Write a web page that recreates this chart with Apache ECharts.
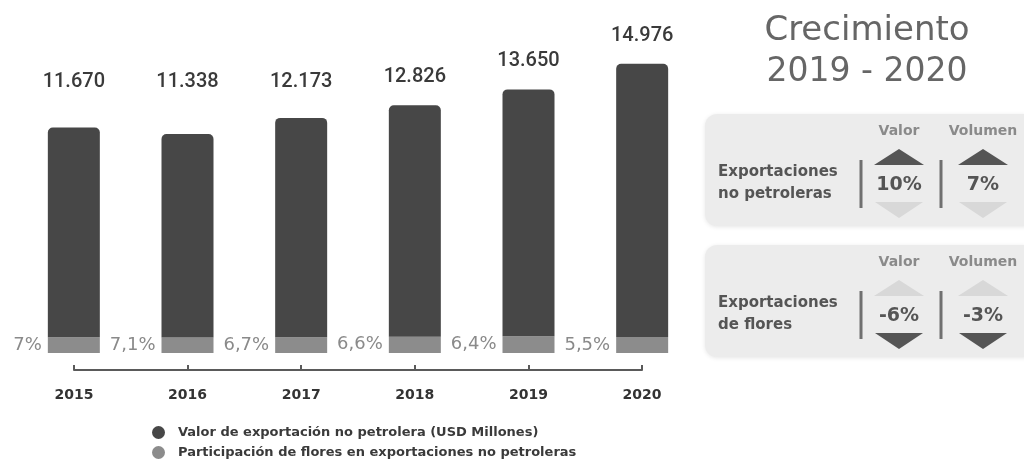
<!DOCTYPE html>
<html>
<head>
<meta charset="utf-8">
<script src="https://cdn.jsdelivr.net/npm/echarts@6/dist/echarts.min.js"></script>
<style>
html,body{margin:0;padding:0;background:#fff;}
#chart{width:1024px;height:468px;}
</style>
</head>
<body>
<div id="chart"></div>
<script>
// ---- data ----
const years = ['2015', '2016', '2017', '2018', '2019', '2020'];
const exportValues = [11670, 11338, 12173, 12826, 13650, 14976];   // USD millones
const flowerShares = [7, 7.1, 6.7, 6.6, 6.4, 5.5];                  // % participación flores
const seriesNames = ['Valor de exportación no petrolera (USD Millones)',
                     'Participación de flores en exportaciones no petroleras'];
const panelTitle = ['Crecimiento', '2019 - 2020'];
const growthRows = ['Exportaciones\nno petroleras', 'Exportaciones\nde flores'];
const growthHeaders = ['Valor', 'Volumen'];
const growthValor = [10, -6];
const growthVolumen = [7, -3];

// ---- derived ----
const flowerValues = exportValues.map((v, i) => v * flowerShares[i] / 100);
const restValues = exportValues.map((v, i) => v - flowerValues[i]);
const fmtThousands = v => String(v).replace(/\B(?=(\d{3})+(?!\d))/g, '.');
const fmtPct = v => String(v).replace('.', ',') + '%';

const DARK = '#474747', LIGHT = '#8c8c8c';
const FONT = "'DejaVu Sans', sans-serif";

// ---- right panel graphics ----
const graphic = [];
graphic.push({type:'text', x:867, y:31, style:{text:panelTitle[0], align:'center', verticalAlign:'middle', fontSize:34, fontFamily:FONT, fill:'#666'}});
graphic.push({type:'text', x:867, y:72, style:{text:panelTitle[1], align:'center', verticalAlign:'middle', fontSize:33, fontFamily:FONT, fill:'#666'}});

const boxTops = [114, 245];
const colX = [899, 983];
const dividerX = [861, 941];
growthRows.forEach((label, r) => {
  const t = boxTops[r];
  graphic.push({type:'rect', shape:{x:705, y:t, width:330, height:112, r:12},
    style:{fill:'#ececec', shadowBlur:4, shadowColor:'rgba(0,0,0,0.10)', shadowOffsetY:1}});
  graphic.push({type:'text', x:718, y:t+69, style:{text:label, align:'left', verticalAlign:'middle',
    fontSize:15, lineHeight:22, fontWeight:'bold', fontFamily:FONT, fill:'#555'}});
  dividerX.forEach(dx => graphic.push({type:'rect', shape:{x:dx-1.5, y:t+46, width:3, height:48},
    style:{fill:'#707070'}}));
  const vals = [growthValor[r], growthVolumen[r]];
  colX.forEach((cx, c) => {
    const up = vals[c] >= 0;
    graphic.push({type:'text', x:cx, y:t+17, style:{text:growthHeaders[c], align:'center', verticalAlign:'middle',
      fontSize:14, fontWeight:'bold', fontFamily:FONT, fill:'#8a8a8a'}});
    graphic.push({type:'polygon', shape:{points:[[cx, t+35], [cx+25, t+51], [cx-25, t+51]]},
      style:{fill: up ? '#555' : '#d8d8d8'}});
    graphic.push({type:'polygon', shape:{points:[[cx-24, t+88], [cx+24, t+88], [cx, t+104]]},
      style:{fill: up ? '#d8d8d8' : '#555'}});
    graphic.push({type:'text', x:cx, y:t+71, style:{text:vals[c] + '%', align:'center', verticalAlign:'middle',
      fontSize:19, fontWeight:'bold', fontFamily:FONT, fill:'#555'}});
  });
});

const chart = echarts.init(document.getElementById('chart'), null, {renderer:'canvas'});
chart.setOption({
  animation: false,
  backgroundColor: '#fff',
  grid: [
    {left:17, top:44, width:682, height:309},
    {left:74, top:300, width:568, height:70}
  ],
  xAxis: [
    {type:'category', gridIndex:0, data:years, show:false},
    {type:'category', gridIndex:1, data:years, boundaryGap:false,
     axisLine:{show:true, lineStyle:{color:'#5a5a5a', width:2}},
     axisTick:{show:true, inside:true, length:5, lineStyle:{color:'#5a5a5a', width:2}},
     axisLabel:{margin:18, fontSize:14, fontWeight:'bold', fontFamily:FONT, color:'#333'}}
  ],
  yAxis: [
    {type:'value', gridIndex:0, min:0, max:16000, show:false},
    {type:'value', gridIndex:1, show:false}
  ],
  legend: {
    orient:'vertical', left:147, top:421, itemGap:7, itemWidth:13, itemHeight:13, icon:'circle',
    data: seriesNames,
    textStyle:{fontSize:13, fontWeight:'bold', fontFamily:FONT, color:'#3a3a3a', padding:[0,0,0,8]}
  },
  series: [
    {
      name: seriesNames[1], type:'bar', stack:'total', xAxisIndex:0, yAxisIndex:0,
      barWidth:52, data: flowerValues,
      itemStyle:{color:LIGHT},
      label:{show:true, position:'left', distance:6, fontSize:18, fontFamily:FONT, color:'#8a8a8a',
        formatter: p => fmtPct(flowerShares[p.dataIndex])}
    },
    {
      name: seriesNames[0], type:'bar', stack:'total', xAxisIndex:0, yAxisIndex:0,
      barWidth:52, data: restValues,
      itemStyle:{color:DARK, borderRadius:[5,5,0,0]},
      label:{show:true, position:'top', fontSize:20, fontWeight:500, fontFamily:"Roboto, sans-serif",
        color:'#3a3a3a', formatter: p => fmtThousands(exportValues[p.dataIndex])},
      labelLayout: function (p) {
        return {x: p.rect.x + p.rect.width / 2, y: Math.min(82, p.rect.y - 28), align:'center', verticalAlign:'middle'};
      }
    }
  ],
  graphic: graphic
});
</script>
</body>
</html>
